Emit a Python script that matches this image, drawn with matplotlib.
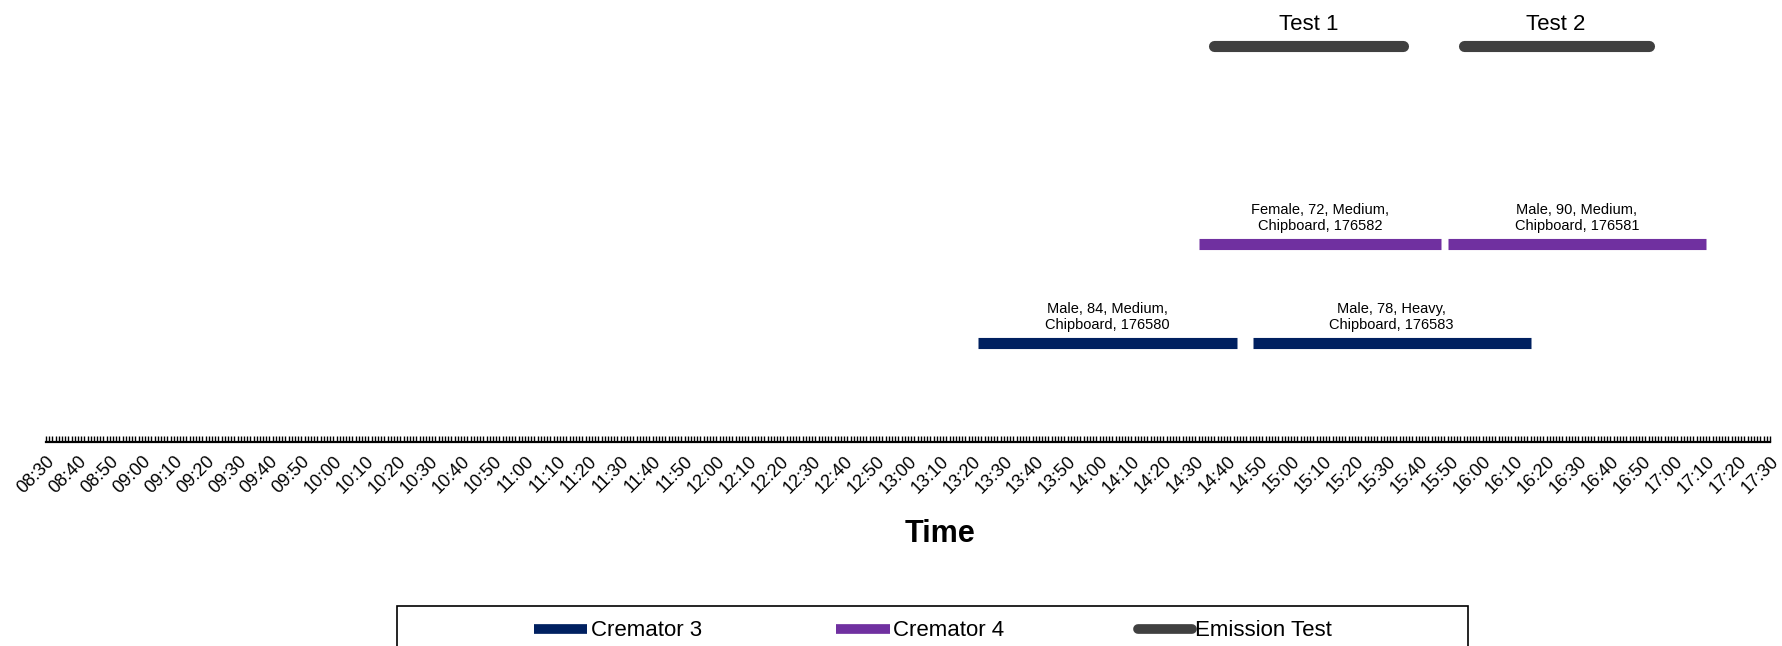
import matplotlib
matplotlib.use('Agg')
import matplotlib.pyplot as plt
from matplotlib.lines import Line2D
from matplotlib.patches import Rectangle
from matplotlib.ticker import MultipleLocator, FuncFormatter

plt.rcParams['font.family'] = ['Liberation Sans', 'DejaVu Sans']

# cremation / test runs (start, end)
crem3_start = ['13:22', '14:48']
crem3_end = ['14:43', '16:15']
crem3_labels = ['Male, 84, Medium,\nChipboard, 176580', 'Male, 78, Heavy,\nChipboard, 176583']

crem4_start = ['14:31', '15:49']
crem4_end = ['15:47', '17:10']
crem4_labels = ['Female, 72, Medium,\nChipboard, 176582', 'Male, 90, Medium,\nChipboard, 176581']

test_start = ['14:36', '15:54']
test_end = ['15:35', '16:52']
test_labels = ['Test 1', 'Test 2']

series_names = ['Cremator 3', 'Cremator 4', 'Emission Test']
series_colors = ['#002060', '#7030A0', '#404040']
series_y = [1, 2, 4]

x_min, x_max = '08:30', '17:30'


def to_min(s):
    h, m = s.split(':')
    return int(h) * 60 + int(m)


fig = plt.figure(figsize=(17.83, 6.46), dpi=100)
ax = fig.add_axes([46 / 1783, 204 / 646, (1770 - 46) / 1783, 442 / 646])

groups = [
    (crem3_start, crem3_end, crem3_labels, 'butt', 10.5),
    (crem4_start, crem4_end, crem4_labels, 'butt', 10.5),
    (test_start, test_end, test_labels, 'round', 16),
]
for (starts, ends, labels, cap, fs), col, y in zip(groups, series_colors, series_y):
    for s, e, lab in zip(starts, ends, labels):
        x0, x1 = to_min(s), to_min(e)
        ax.plot([x0, x1], [y, y], color=col, lw=8, solid_capstyle=cap)
        ax.text((x0 + x1) / 2, y + 0.11, lab, ha='center', va='bottom',
                fontsize=fs, linespacing=1.15)

ax.set_xlim(to_min(x_min), to_min(x_max))
ax.set_ylim(0, 4.46)

ax.xaxis.set_major_locator(MultipleLocator(10))
ax.xaxis.set_minor_locator(MultipleLocator(1))
ax.xaxis.set_major_formatter(FuncFormatter(lambda v, p: '%02d:%02d' % (int(v) // 60, int(v) % 60)))
ax.tick_params(axis='x', which='both', direction='in', length=4, width=1, color='black')
ax.tick_params(axis='x', which='major', labelsize=13, pad=8)
plt.setp(ax.get_xticklabels(), rotation=45, ha='right', va='top', rotation_mode='anchor')
ax.set_yticks([])
for side in ['left', 'right', 'top']:
    ax.spines[side].set_visible(False)
ax.spines['bottom'].set_linewidth(1.6)

fig.text(940 / 1783, 1 - 534 / 646, 'Time', ha='center', va='center',
         fontsize=22, fontweight='bold')

handles = [Line2D([0], [0], color=c, lw=7, solid_capstyle=cap)
           for c, cap in zip(series_colors, ['butt', 'butt', 'round'])]
fig.legend(handles, series_names, loc='center left', ncol=3,
           bbox_to_anchor=(534 / 1783, 1 - 631 / 646), frameon=False,
           fontsize=16, handlelength=2.4, handletextpad=0.15,
           columnspacing=6.05, borderpad=0, borderaxespad=0)
fig.patches.append(Rectangle((397 / 1783, -0.05), (1468 - 397) / 1783, 40 / 646 + 0.05,
                             transform=fig.transFigure, fill=False,
                             edgecolor='black', lw=1.2))

plt.savefig('out.png', dpi=100)
